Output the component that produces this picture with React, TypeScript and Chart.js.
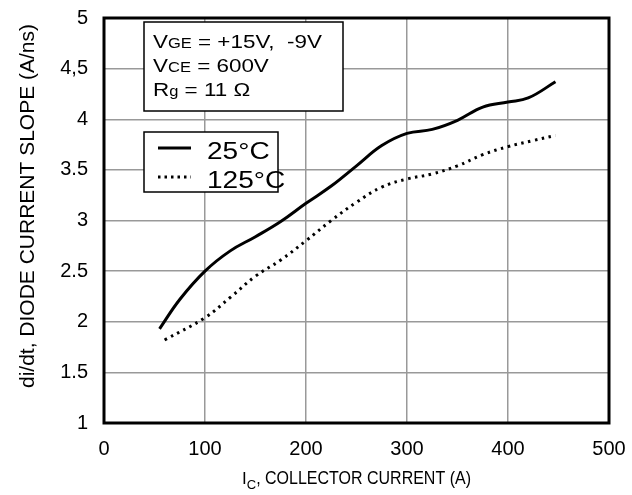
import { useEffect, useRef } from "react";
import { Chart, registerables } from "chart.js";

Chart.register(...registerables);

// ---- data ----
const current25 = [55, 75, 100, 125, 150, 175, 200, 225, 250, 275, 300, 325, 350, 375, 400, 420, 447];
const slope25 = [1.93, 2.22, 2.5, 2.7, 2.84, 2.99, 3.17, 3.34, 3.54, 3.74, 3.86, 3.9, 3.99, 4.12, 4.17, 4.21, 4.37];
const current125 = [60, 100, 125, 150, 175, 200, 225, 250, 275, 300, 325, 350, 375, 400, 425, 447];
const slope125 = [1.82, 2.04, 2.24, 2.45, 2.61, 2.8, 3.0, 3.18, 3.33, 3.41, 3.46, 3.54, 3.65, 3.73, 3.79, 3.84];
const seriesLabels = ["25°C", "125°C"];
const yTickValues = [1, 1.5, 2, 2.5, 3, 3.5, 4, 4.5, 5];
const yTickLabels = ["1", "1.5", "2", "2.5", "3", "3.5", "4", "4,5", "5"];
const xTickValues = [0, 100, 200, 300, 400, 500];
const xTitleMain = "I";
const xTitleSub = "C";
const xTitleRest = ", COLLECTOR CURRENT (A)";
const yTitle = "di/dt, DIODE CURRENT SLOPE (A/ns)";
// condition lines: [big, small, rest]
const conditions: [string, string, string][] = [
  ["V", "GE", " = +15V,  -9V"],
  ["V", "CE", " = 600V"],
  ["R", "g", " = 11 Ω"],
];

const FONT = "'Liberation Sans', Arial, Helvetica, sans-serif";

function stretchedText(ctx: CanvasRenderingContext2D, text: string, x: number, y: number, sx: number) {
  ctx.save();
  ctx.translate(x, y);
  ctx.scale(sx, 1);
  ctx.fillText(text, 0, 0);
  ctx.restore();
  return ctx.measureText(text).width * sx;
}

const decorPlugin = {
  id: "decor",
  afterDraw(chart: any) {
    const ctx: CanvasRenderingContext2D = chart.ctx;
    const a = chart.chartArea;
    ctx.save();
    // plot frame
    ctx.strokeStyle = "#000";
    ctx.lineWidth = 3;
    ctx.strokeRect(a.left, a.top, a.right - a.left, a.bottom - a.top);

    // condition box
    ctx.fillStyle = "#fff";
    ctx.fillRect(144, 22, 199, 89);
    ctx.lineWidth = 1.5;
    ctx.strokeRect(144, 22, 199, 89);
    ctx.fillStyle = "#000";
    ctx.textBaseline = "alphabetic";
    ctx.textAlign = "left";
    const baselines = [48, 72, 96];
    const sx = 1.18;
    conditions.forEach((c, i) => {
      let x = 153;
      ctx.font = `19px ${FONT}`;
      x += stretchedText(ctx, c[0], x, baselines[i], sx);
      ctx.font = `14px ${FONT}`;
      x += stretchedText(ctx, c[1], x, baselines[i], sx);
      ctx.font = `19px ${FONT}`;
      stretchedText(ctx, c[2], x, baselines[i], sx);
    });

    // legend box
    ctx.fillStyle = "#fff";
    ctx.fillRect(144, 132, 134, 60);
    ctx.strokeStyle = "#000";
    ctx.lineWidth = 1.5;
    ctx.strokeRect(144, 132, 134, 60);
    ctx.lineWidth = 3;
    ctx.beginPath();
    ctx.moveTo(158, 148);
    ctx.lineTo(191, 148);
    ctx.stroke();
    ctx.setLineDash([2.5, 4]);
    ctx.beginPath();
    ctx.moveTo(158, 177);
    ctx.lineTo(191, 177);
    ctx.stroke();
    ctx.setLineDash([]);
    ctx.fillStyle = "#000";
    ctx.font = `23px ${FONT}`;
    stretchedText(ctx, seriesLabels[0], 207, 159, 1.22);
    stretchedText(ctx, seriesLabels[1], 207, 188, 1.22);

    // x title
    ctx.font = `17px ${FONT}`;
    const wMain = ctx.measureText(xTitleMain).width;
    ctx.font = `13px ${FONT}`;
    const wSub = ctx.measureText(xTitleSub).width;
    ctx.font = `16px ${FONT}`;
    const wRest = ctx.measureText(xTitleRest).width;
    let x0 = (a.left + a.right) / 2 - (wMain + wSub + wRest) / 2;
    const yb = 484;
    ctx.font = `17px ${FONT}`;
    ctx.fillText(xTitleMain, x0, yb);
    x0 += wMain;
    ctx.font = `13px ${FONT}`;
    ctx.fillText(xTitleSub, x0, yb + 5);
    x0 += wSub;
    ctx.font = `16px ${FONT}`;
    ctx.save();
    ctx.translate(x0, yb);
    ctx.scale(1, 1.1);
    ctx.fillText(xTitleRest, 0, 0);
    ctx.restore();

    // y title
    ctx.translate(28, 206);
    ctx.rotate(-Math.PI / 2);
    ctx.textAlign = "center";
    ctx.textBaseline = "middle";
    ctx.font = `21px ${FONT}`;
    ctx.fillText(yTitle, 0, 0);
    ctx.restore();
  },
};

export default function App() {
  const ref = useRef<HTMLCanvasElement | null>(null);
  useEffect(() => {
    document.body.style.margin = "0";
    const chart = new Chart(ref.current!, {
      type: "line",
      data: {
        datasets: [
          {
            label: seriesLabels[0],
            data: current25.map((x, i) => ({ x, y: slope25[i] })),
            borderColor: "#000",
            borderWidth: 3,
            pointRadius: 0,
            tension: 0.4,
            fill: false,
          },
          {
            label: seriesLabels[1],
            data: current125.map((x, i) => ({ x, y: slope125[i] })),
            borderColor: "#000",
            borderWidth: 3,
            borderDash: [2.5, 4.5],
            pointRadius: 0,
            tension: 0.4,
            fill: false,
          },
        ],
      },
      options: {
        animation: false,
        responsive: false,
        layout: { padding: { left: 0, right: 23, top: 18, bottom: 0 } },
        plugins: { legend: { display: false }, tooltip: { enabled: false } },
        scales: {
          x: {
            type: "linear",
            min: 0,
            max: 500,
            afterBuildTicks: (s: any) => {
              s.ticks = xTickValues.map((v) => ({ value: v }));
            },
            afterFit: (s: any) => {
              s.height = 72;
              s.paddingLeft = 0;
              s.paddingRight = 0;
            },
            grid: { color: "#999", lineWidth: 1.5, drawTicks: false },
            border: { display: false },
            ticks: {
              padding: 14,
              color: "#000",
              font: { family: FONT, size: 20 },
              maxRotation: 0,
            },
          },
          y: {
            type: "linear",
            min: 1,
            max: 5,
            afterBuildTicks: (s: any) => {
              s.ticks = yTickValues.map((v) => ({ value: v }));
            },
            afterFit: (s: any) => {
              s.width = 104;
              s.paddingTop = 0;
              s.paddingBottom = 0;
            },
            grid: { color: "#999", lineWidth: 1.5, drawTicks: false },
            border: { display: false },
            ticks: {
              padding: 16,
              color: "#000",
              font: { family: FONT, size: 20 },
              callback: (v: any) => {
                const i = yTickValues.indexOf(Number(v));
                return i >= 0 ? yTickLabels[i] : String(v);
              },
            },
          },
        },
      },
      plugins: [decorPlugin],
    });
    return () => chart.destroy();
  }, []);
  return (
    <div style={{ position: "fixed", left: 0, top: 0, width: 632, height: 495, background: "#fff" }}>
      <canvas ref={ref} width={632} height={495} />
    </div>
  );
}
